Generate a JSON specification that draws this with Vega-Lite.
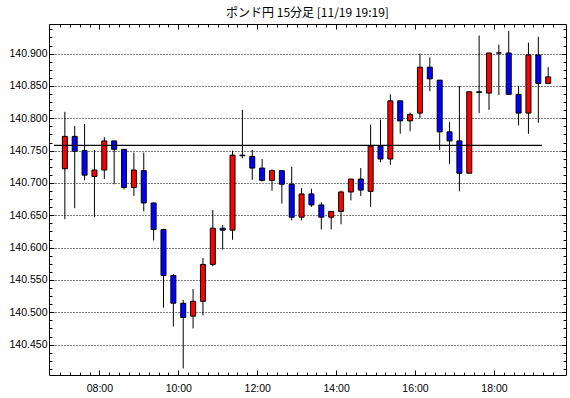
{
  "$schema": "https://vega.github.io/schema/vega-lite/v6.json",
  "autosize": {"type": "none"},
  "padding": {"left": 49, "top": 24, "right": 4, "bottom": 23},
  "width": 517,
  "height": 351,
  "background": "white",
  "title": {"text": "ポンド円 15分足 [11/19 19:19]", "font": "Noto Sans CJK JP", "fontSize": 12, "fontWeight": "normal", "color": "black", "offset": 4},
  "config": {
    "view": {"stroke": null},
    "axis": {"labelFont": "Liberation Sans", "labelFontSize": 10.5, "labelColor": "black", "tickColor": "black", "domainColor": "black", "tickWidth": 1, "domainWidth": 1}
  },
  "datasets": {
    "candles": [
      {"t": "2024-11-19T07:00:00", "o": 140.722, "h": 140.810, "l": 140.644, "c": 140.772},
      {"t": "2024-11-19T07:15:00", "o": 140.772, "h": 140.788, "l": 140.661, "c": 140.749},
      {"t": "2024-11-19T07:30:00", "o": 140.750, "h": 140.791, "l": 140.704, "c": 140.712},
      {"t": "2024-11-19T07:45:00", "o": 140.710, "h": 140.751, "l": 140.647, "c": 140.720},
      {"t": "2024-11-19T08:00:00", "o": 140.720, "h": 140.771, "l": 140.706, "c": 140.765},
      {"t": "2024-11-19T08:15:00", "o": 140.765, "h": 140.765, "l": 140.698, "c": 140.752},
      {"t": "2024-11-19T08:30:00", "o": 140.752, "h": 140.752, "l": 140.690, "c": 140.693},
      {"t": "2024-11-19T08:45:00", "o": 140.693, "h": 140.747, "l": 140.680, "c": 140.720},
      {"t": "2024-11-19T09:00:00", "o": 140.719, "h": 140.747, "l": 140.656, "c": 140.669},
      {"t": "2024-11-19T09:15:00", "o": 140.669, "h": 140.670, "l": 140.611, "c": 140.628},
      {"t": "2024-11-19T09:30:00", "o": 140.628, "h": 140.629, "l": 140.507, "c": 140.557},
      {"t": "2024-11-19T09:45:00", "o": 140.557, "h": 140.559, "l": 140.478, "c": 140.514},
      {"t": "2024-11-19T10:00:00", "o": 140.514, "h": 140.519, "l": 140.413, "c": 140.492},
      {"t": "2024-11-19T10:15:00", "o": 140.494, "h": 140.536, "l": 140.475, "c": 140.517},
      {"t": "2024-11-19T10:30:00", "o": 140.517, "h": 140.584, "l": 140.495, "c": 140.574},
      {"t": "2024-11-19T10:45:00", "o": 140.574, "h": 140.658, "l": 140.571, "c": 140.630},
      {"t": "2024-11-19T11:00:00", "o": 140.630, "h": 140.635, "l": 140.597, "c": 140.627},
      {"t": "2024-11-19T11:15:00", "o": 140.627, "h": 140.750, "l": 140.612, "c": 140.743},
      {"t": "2024-11-19T11:30:00", "o": 140.743, "h": 140.813, "l": 140.738, "c": 140.742},
      {"t": "2024-11-19T11:45:00", "o": 140.741, "h": 140.751, "l": 140.705, "c": 140.723},
      {"t": "2024-11-19T12:00:00", "o": 140.723, "h": 140.737, "l": 140.702, "c": 140.704},
      {"t": "2024-11-19T12:15:00", "o": 140.704, "h": 140.721, "l": 140.688, "c": 140.719},
      {"t": "2024-11-19T12:30:00", "o": 140.719, "h": 140.719, "l": 140.668, "c": 140.698},
      {"t": "2024-11-19T12:45:00", "o": 140.698, "h": 140.725, "l": 140.642, "c": 140.647},
      {"t": "2024-11-19T13:00:00", "o": 140.647, "h": 140.692, "l": 140.642, "c": 140.683},
      {"t": "2024-11-19T13:15:00", "o": 140.683, "h": 140.691, "l": 140.663, "c": 140.666},
      {"t": "2024-11-19T13:30:00", "o": 140.666, "h": 140.670, "l": 140.628, "c": 140.647},
      {"t": "2024-11-19T13:45:00", "o": 140.647, "h": 140.656, "l": 140.628, "c": 140.656},
      {"t": "2024-11-19T14:00:00", "o": 140.656, "h": 140.688, "l": 140.636, "c": 140.686},
      {"t": "2024-11-19T14:15:00", "o": 140.686, "h": 140.706, "l": 140.673, "c": 140.706},
      {"t": "2024-11-19T14:30:00", "o": 140.706, "h": 140.723, "l": 140.680, "c": 140.689},
      {"t": "2024-11-19T14:45:00", "o": 140.687, "h": 140.790, "l": 140.663, "c": 140.757},
      {"t": "2024-11-19T15:00:00", "o": 140.757, "h": 140.798, "l": 140.732, "c": 140.737},
      {"t": "2024-11-19T15:15:00", "o": 140.737, "h": 140.837, "l": 140.728, "c": 140.827},
      {"t": "2024-11-19T15:30:00", "o": 140.827, "h": 140.827, "l": 140.776, "c": 140.796},
      {"t": "2024-11-19T15:45:00", "o": 140.796, "h": 140.809, "l": 140.780, "c": 140.806},
      {"t": "2024-11-19T16:00:00", "o": 140.808, "h": 140.900, "l": 140.800, "c": 140.879},
      {"t": "2024-11-19T16:15:00", "o": 140.879, "h": 140.894, "l": 140.842, "c": 140.861},
      {"t": "2024-11-19T16:30:00", "o": 140.859, "h": 140.859, "l": 140.751, "c": 140.779},
      {"t": "2024-11-19T16:45:00", "o": 140.779, "h": 140.794, "l": 140.729, "c": 140.765},
      {"t": "2024-11-19T17:00:00", "o": 140.765, "h": 140.850, "l": 140.687, "c": 140.715},
      {"t": "2024-11-19T17:15:00", "o": 140.715, "h": 140.841, "l": 140.715, "c": 140.841},
      {"t": "2024-11-19T17:30:00", "o": 140.841, "h": 140.928, "l": 140.808, "c": 140.840},
      {"t": "2024-11-19T17:45:00", "o": 140.839, "h": 140.901, "l": 140.813, "c": 140.901},
      {"t": "2024-11-19T18:00:00", "o": 140.901, "h": 140.914, "l": 140.836, "c": 140.901},
      {"t": "2024-11-19T18:15:00", "o": 140.901, "h": 140.935, "l": 140.836, "c": 140.837},
      {"t": "2024-11-19T18:30:00", "o": 140.837, "h": 140.850, "l": 140.789, "c": 140.808},
      {"t": "2024-11-19T18:45:00", "o": 140.808, "h": 140.917, "l": 140.776, "c": 140.898},
      {"t": "2024-11-19T19:00:00", "o": 140.898, "h": 140.926, "l": 140.793, "c": 140.854},
      {"t": "2024-11-19T19:15:00", "o": 140.854, "h": 140.879, "l": 140.854, "c": 140.864}
    ],
    "refline": [
      {"x1": "2024-11-19T06:51:00", "x2": "2024-11-19T19:13:00", "y": 140.758}
    ]
  },
  "layer": [
    {
      "data": {"name": "candles"},
      "transform": [{"calculate": "toNumber(toDate(datum.t)) + 450000", "as": "tm"}],
      "mark": {"type": "rule", "color": "black", "strokeWidth": 1},
      "encoding": {
        "x": {"field": "tm", "type": "temporal",
              "scale": {"domain": [{"year": 2024, "month": 11, "date": 19, "hours": 6, "minutes": 51}, {"year": 2024, "month": 11, "date": 19, "hours": 19, "minutes": 42}], "nice": false},
              "axis": {"orient": "bottom", "format": "%H:%M", "tickCount": 200,
                       "values": [{"year": 2024, "month": 11, "date": 19, "hours": 8, "minutes": 0}, {"year": 2024, "month": 11, "date": 19, "hours": 10, "minutes": 0}, {"year": 2024, "month": 11, "date": 19, "hours": 12, "minutes": 0}, {"year": 2024, "month": 11, "date": 19, "hours": 14, "minutes": 0}, {"year": 2024, "month": 11, "date": 19, "hours": 16, "minutes": 0}, {"year": 2024, "month": 11, "date": 19, "hours": 18, "minutes": 0}],
                       "ticks": true, "tickSize": -5, "grid": false, "domain": true, "labelPadding": 13, "labelFlush": false, "labelOverlap": false, "title": null}},
        "y": {"field": "l", "type": "quantitative",
              "scale": {"domain": [140.403, 140.9458], "nice": false, "zero": false},
              "axis": {"orient": "left", "tickCount": 200, "values": [140.45, 140.5, 140.55, 140.6, 140.65, 140.7, 140.75, 140.8, 140.85, 140.9], "format": ".3f", "ticks": true, "tickSize": -5, "grid": true, "gridColor": "black", "gridDash": [1, 2], "gridOpacity": 1, "gridWidth": 1, "domain": true, "labelPadding": 7, "labelOverlap": false, "title": null}},
        "y2": {"field": "h"}
      }
    },
    {
      "data": {"name": "candles"},
      "transform": [{"calculate": "toNumber(toDate(datum.t)) + 450000", "as": "tm"}],
      "mark": {"type": "bar", "size": 5, "stroke": "black", "strokeWidth": 1},
      "encoding": {
        "x": {"field": "tm", "type": "temporal",
              "axis": {"orient": "top", "tickCount": 200,
                       "values": [{"year": 2024, "month": 11, "date": 19, "hours": 8, "minutes": 0}, {"year": 2024, "month": 11, "date": 19, "hours": 10, "minutes": 0}, {"year": 2024, "month": 11, "date": 19, "hours": 12, "minutes": 0}, {"year": 2024, "month": 11, "date": 19, "hours": 14, "minutes": 0}, {"year": 2024, "month": 11, "date": 19, "hours": 16, "minutes": 0}, {"year": 2024, "month": 11, "date": 19, "hours": 18, "minutes": 0}],
                       "labels": false, "ticks": true, "tickSize": -5, "grid": false, "domain": true, "title": null}},
        "y": {"field": "o", "type": "quantitative",
              "axis": {"orient": "right", "tickCount": 200, "values": [140.45, 140.5, 140.55, 140.6, 140.65, 140.7, 140.75, 140.8, 140.85, 140.9], "labels": false, "ticks": true, "tickSize": -5, "grid": false, "domain": true, "title": null}},
        "y2": {"field": "c"},
        "color": {"condition": {"test": "datum.c >= datum.o", "value": "#ff0000"}, "value": "#0000ff"}
      }
    },
    {
      "data": {"name": "refline"},
      "mark": {"type": "rule", "color": "black", "strokeWidth": 1.2},
      "encoding": {
        "x": {"field": "x1", "type": "temporal",
              "axis": {"orient": "bottom", "tickCount": 200,
                       "values": [
                         {"year": 2024, "month": 11, "date": 19, "hours": 7, "minutes": 0}, {"year": 2024, "month": 11, "date": 19, "hours": 7, "minutes": 15}, {"year": 2024, "month": 11, "date": 19, "hours": 7, "minutes": 30}, {"year": 2024, "month": 11, "date": 19, "hours": 7, "minutes": 45},
                         {"year": 2024, "month": 11, "date": 19, "hours": 8, "minutes": 15}, {"year": 2024, "month": 11, "date": 19, "hours": 8, "minutes": 30}, {"year": 2024, "month": 11, "date": 19, "hours": 8, "minutes": 45}, {"year": 2024, "month": 11, "date": 19, "hours": 9, "minutes": 0},
                         {"year": 2024, "month": 11, "date": 19, "hours": 9, "minutes": 15}, {"year": 2024, "month": 11, "date": 19, "hours": 9, "minutes": 30}, {"year": 2024, "month": 11, "date": 19, "hours": 9, "minutes": 45},
                         {"year": 2024, "month": 11, "date": 19, "hours": 10, "minutes": 15}, {"year": 2024, "month": 11, "date": 19, "hours": 10, "minutes": 30}, {"year": 2024, "month": 11, "date": 19, "hours": 10, "minutes": 45}, {"year": 2024, "month": 11, "date": 19, "hours": 11, "minutes": 0},
                         {"year": 2024, "month": 11, "date": 19, "hours": 11, "minutes": 15}, {"year": 2024, "month": 11, "date": 19, "hours": 11, "minutes": 30}, {"year": 2024, "month": 11, "date": 19, "hours": 11, "minutes": 45},
                         {"year": 2024, "month": 11, "date": 19, "hours": 12, "minutes": 15}, {"year": 2024, "month": 11, "date": 19, "hours": 12, "minutes": 30}, {"year": 2024, "month": 11, "date": 19, "hours": 12, "minutes": 45}, {"year": 2024, "month": 11, "date": 19, "hours": 13, "minutes": 0},
                         {"year": 2024, "month": 11, "date": 19, "hours": 13, "minutes": 15}, {"year": 2024, "month": 11, "date": 19, "hours": 13, "minutes": 30}, {"year": 2024, "month": 11, "date": 19, "hours": 13, "minutes": 45},
                         {"year": 2024, "month": 11, "date": 19, "hours": 14, "minutes": 15}, {"year": 2024, "month": 11, "date": 19, "hours": 14, "minutes": 30}, {"year": 2024, "month": 11, "date": 19, "hours": 14, "minutes": 45}, {"year": 2024, "month": 11, "date": 19, "hours": 15, "minutes": 0},
                         {"year": 2024, "month": 11, "date": 19, "hours": 15, "minutes": 15}, {"year": 2024, "month": 11, "date": 19, "hours": 15, "minutes": 30}, {"year": 2024, "month": 11, "date": 19, "hours": 15, "minutes": 45},
                         {"year": 2024, "month": 11, "date": 19, "hours": 16, "minutes": 15}, {"year": 2024, "month": 11, "date": 19, "hours": 16, "minutes": 30}, {"year": 2024, "month": 11, "date": 19, "hours": 16, "minutes": 45}, {"year": 2024, "month": 11, "date": 19, "hours": 17, "minutes": 0},
                         {"year": 2024, "month": 11, "date": 19, "hours": 17, "minutes": 15}, {"year": 2024, "month": 11, "date": 19, "hours": 17, "minutes": 30}, {"year": 2024, "month": 11, "date": 19, "hours": 17, "minutes": 45},
                         {"year": 2024, "month": 11, "date": 19, "hours": 18, "minutes": 15}, {"year": 2024, "month": 11, "date": 19, "hours": 18, "minutes": 30}, {"year": 2024, "month": 11, "date": 19, "hours": 18, "minutes": 45}, {"year": 2024, "month": 11, "date": 19, "hours": 19, "minutes": 0},
                         {"year": 2024, "month": 11, "date": 19, "hours": 19, "minutes": 15}, {"year": 2024, "month": 11, "date": 19, "hours": 19, "minutes": 30}],
                       "labels": false, "ticks": true, "tickSize": -3, "grid": false, "domain": false, "title": null}},
        "x2": {"field": "x2"},
        "y": {"field": "y", "type": "quantitative",
              "axis": {"orient": "left", "tickCount": 200, "values": [140.4125, 140.425, 140.4375, 140.4625, 140.475, 140.4875, 140.5125, 140.525, 140.5375, 140.5625, 140.575, 140.5875, 140.6125, 140.625, 140.6375, 140.6625, 140.675, 140.6875, 140.7125, 140.725, 140.7375, 140.7625, 140.775, 140.7875, 140.8125, 140.825, 140.8375, 140.8625, 140.875, 140.8875, 140.9125, 140.925, 140.9375], "labels": false, "ticks": true, "tickSize": -3, "grid": false, "domain": false, "title": null}}
      }
    },
    {
      "data": {"name": "refline"},
      "mark": {"type": "rule", "opacity": 0},
      "encoding": {
        "x": {"field": "x1", "type": "temporal",
              "axis": {"orient": "top", "tickCount": 200,
                       "values": [
                         {"year": 2024, "month": 11, "date": 19, "hours": 7, "minutes": 0}, {"year": 2024, "month": 11, "date": 19, "hours": 7, "minutes": 15}, {"year": 2024, "month": 11, "date": 19, "hours": 7, "minutes": 30}, {"year": 2024, "month": 11, "date": 19, "hours": 7, "minutes": 45},
                         {"year": 2024, "month": 11, "date": 19, "hours": 8, "minutes": 15}, {"year": 2024, "month": 11, "date": 19, "hours": 8, "minutes": 30}, {"year": 2024, "month": 11, "date": 19, "hours": 8, "minutes": 45}, {"year": 2024, "month": 11, "date": 19, "hours": 9, "minutes": 0},
                         {"year": 2024, "month": 11, "date": 19, "hours": 9, "minutes": 15}, {"year": 2024, "month": 11, "date": 19, "hours": 9, "minutes": 30}, {"year": 2024, "month": 11, "date": 19, "hours": 9, "minutes": 45},
                         {"year": 2024, "month": 11, "date": 19, "hours": 10, "minutes": 15}, {"year": 2024, "month": 11, "date": 19, "hours": 10, "minutes": 30}, {"year": 2024, "month": 11, "date": 19, "hours": 10, "minutes": 45}, {"year": 2024, "month": 11, "date": 19, "hours": 11, "minutes": 0},
                         {"year": 2024, "month": 11, "date": 19, "hours": 11, "minutes": 15}, {"year": 2024, "month": 11, "date": 19, "hours": 11, "minutes": 30}, {"year": 2024, "month": 11, "date": 19, "hours": 11, "minutes": 45},
                         {"year": 2024, "month": 11, "date": 19, "hours": 12, "minutes": 15}, {"year": 2024, "month": 11, "date": 19, "hours": 12, "minutes": 30}, {"year": 2024, "month": 11, "date": 19, "hours": 12, "minutes": 45}, {"year": 2024, "month": 11, "date": 19, "hours": 13, "minutes": 0},
                         {"year": 2024, "month": 11, "date": 19, "hours": 13, "minutes": 15}, {"year": 2024, "month": 11, "date": 19, "hours": 13, "minutes": 30}, {"year": 2024, "month": 11, "date": 19, "hours": 13, "minutes": 45},
                         {"year": 2024, "month": 11, "date": 19, "hours": 14, "minutes": 15}, {"year": 2024, "month": 11, "date": 19, "hours": 14, "minutes": 30}, {"year": 2024, "month": 11, "date": 19, "hours": 14, "minutes": 45}, {"year": 2024, "month": 11, "date": 19, "hours": 15, "minutes": 0},
                         {"year": 2024, "month": 11, "date": 19, "hours": 15, "minutes": 15}, {"year": 2024, "month": 11, "date": 19, "hours": 15, "minutes": 30}, {"year": 2024, "month": 11, "date": 19, "hours": 15, "minutes": 45},
                         {"year": 2024, "month": 11, "date": 19, "hours": 16, "minutes": 15}, {"year": 2024, "month": 11, "date": 19, "hours": 16, "minutes": 30}, {"year": 2024, "month": 11, "date": 19, "hours": 16, "minutes": 45}, {"year": 2024, "month": 11, "date": 19, "hours": 17, "minutes": 0},
                         {"year": 2024, "month": 11, "date": 19, "hours": 17, "minutes": 15}, {"year": 2024, "month": 11, "date": 19, "hours": 17, "minutes": 30}, {"year": 2024, "month": 11, "date": 19, "hours": 17, "minutes": 45},
                         {"year": 2024, "month": 11, "date": 19, "hours": 18, "minutes": 15}, {"year": 2024, "month": 11, "date": 19, "hours": 18, "minutes": 30}, {"year": 2024, "month": 11, "date": 19, "hours": 18, "minutes": 45}, {"year": 2024, "month": 11, "date": 19, "hours": 19, "minutes": 0},
                         {"year": 2024, "month": 11, "date": 19, "hours": 19, "minutes": 15}, {"year": 2024, "month": 11, "date": 19, "hours": 19, "minutes": 30}],
                       "labels": false, "ticks": true, "tickSize": -3, "grid": false, "domain": false, "title": null}},
        "x2": {"field": "x2"},
        "y": {"field": "y", "type": "quantitative",
              "axis": {"orient": "right", "tickCount": 200, "values": [140.4125, 140.425, 140.4375, 140.4625, 140.475, 140.4875, 140.5125, 140.525, 140.5375, 140.5625, 140.575, 140.5875, 140.6125, 140.625, 140.6375, 140.6625, 140.675, 140.6875, 140.7125, 140.725, 140.7375, 140.7625, 140.775, 140.7875, 140.8125, 140.825, 140.8375, 140.8625, 140.875, 140.8875, 140.9125, 140.925, 140.9375], "labels": false, "ticks": true, "tickSize": -3, "grid": false, "domain": false, "title": null}}
      }
    }
  ],
  "resolve": {"axis": {"x": "independent", "y": "independent"}}
}
